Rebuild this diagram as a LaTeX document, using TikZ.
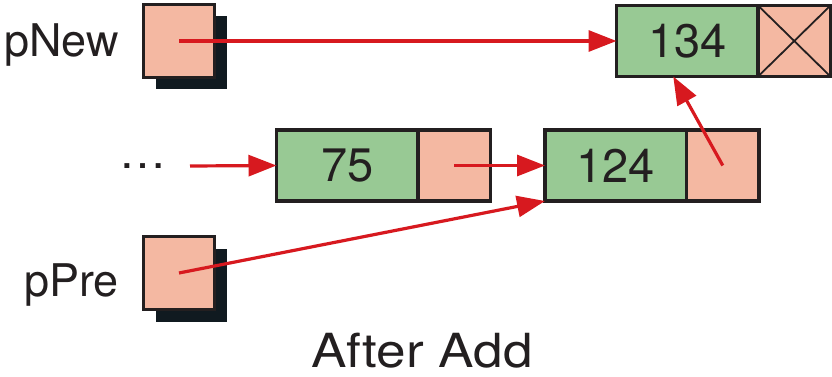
\documentclass[tikz,border=0pt]{standalone}
\usepackage{fontspec}
\setmainfont{TeX Gyre Heros}
\usetikzlibrary{positioning, arrows.meta, shadows}
\definecolor{linkfill}{HTML}{F4B8A2}
\definecolor{datafill}{HTML}{98C994}
\definecolor{ptrred}{HTML}{D7191F}
\definecolor{boxline}{HTML}{231F20}
\definecolor{shadowblack}{HTML}{101A20}

\begin{document}
\begin{tikzpicture}[x=1pt, y=-1pt,
    every node/.style={font=\fontsize{47}{50}\selectfont, text=boxline},
    cell/.style={draw=boxline, line width=3.8pt, inner sep=0pt, outer sep=0pt,
        minimum height=71pt},
    datacell/.style={cell, fill=datafill, minimum width=141.5pt},
    linkcell/.style={cell, fill=linkfill, minimum width=72.5pt},
    ptrvar/.style={cell, fill=linkfill, minimum width=71pt, minimum height=73pt,
        drop shadow={shadow xshift=12pt, shadow yshift=-12pt,
            fill=shadowblack, opacity=1}},
    varlabel/.style={anchor=base east, inner sep=0pt,
        font=\fontsize{45}{50}\selectfont},
    ptr/.style={draw=ptrred, line width=3.2pt,
        -{Triangle[length=28pt, width=21pt]}}
]
\useasboundingbox (0,0) rectangle (832,377);

% --- MACRO: LIST NODE (data cell + link cell) ---
% #1: name prefix
% #2: centre of the data cell
% #3: value
\newcommand{\listNode}[3]{
    \node[datacell] (d#1) at (#2) {#3};
    \node[linkcell, right=0pt of d#1] (l#1) {};
}

% --- POINTER VARIABLES ---
\node[ptrvar] (pNewBox) at (179,41) {};
\node[varlabel] (pNewLabel) at (119,57) {pNew};

\node[ptrvar] (pPreBox) at (179,273) {};
\node[varlabel] (pPreLabel) at (119,296) {pPre};

% --- LIST ---
\listNode{134}{687.25,41}{134}
\listNode{75}{347.25,165.5}{75}
\listNode{124}{615.75,165.5}{124}

% null link
\draw[boxline, line width=1.8pt]
    (l134.north west) -- (l134.south east)
    (l134.north east) -- (l134.south west);

% rest of the list
\node[anchor=base] (dots) at (143,168) {\dots};
\coordinate (listIn) at (190,166);

% --- POINTERS ---
\draw[ptr] (pNewBox.center) -- (d134.west);
\draw[ptr] (listIn) -- (d75.west);
\draw[ptr] (l75.center) -- (d124.west);
\draw[ptr] (l124.center) -- ([xshift=-14pt]d134.south);
\draw[ptr] (pPreBox.center) -- (d124.south west);

% --- CAPTION ---
\node[anchor=base, xscale=1.13] (caption) at (422,367) {After Add};

\end{tikzpicture}
\end{document}
